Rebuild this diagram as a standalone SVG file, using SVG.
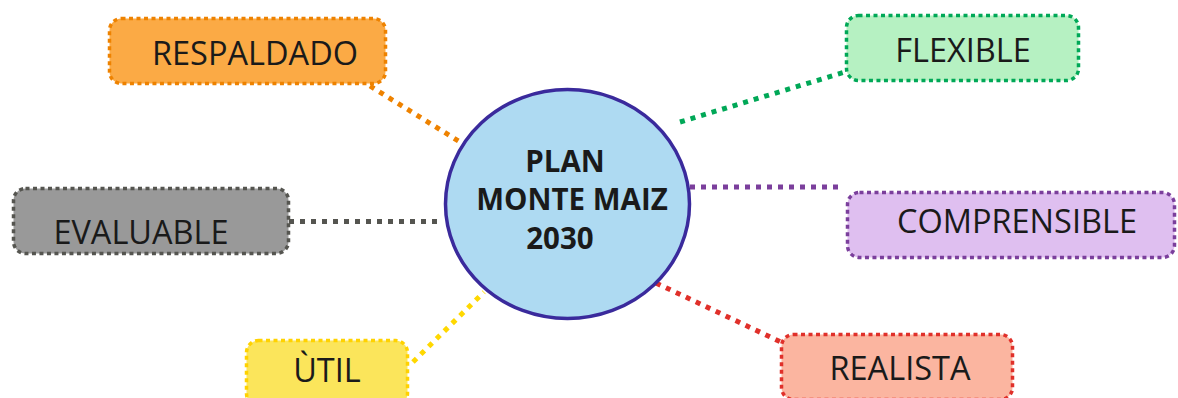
<svg xmlns="http://www.w3.org/2000/svg" width="1178" height="398" viewBox="0 0 1178 398">
<style>
.box{stroke-width:3.5;stroke-dasharray:4 3.5;stroke-linecap:butt}
.lbl{font-family:"Open Sans","Noto Sans","DejaVu Sans",sans-serif;font-size:32.5px;fill:#1a1a1a;text-anchor:middle}
.ctr{font-family:"Open Sans","Noto Sans","DejaVu Sans",sans-serif;font-size:29.5px;font-weight:bold;fill:#1a1a1a;text-anchor:middle}
.con{stroke-width:5;stroke-dasharray:5 6;fill:none}
</style>
<rect width="1178" height="398" fill="#ffffff"/>
<g id="connectors">
<line class="con" x1="370" y1="86" x2="460" y2="142" stroke="#EE8200"/>
<line class="con" x1="680" y1="122" x2="845" y2="72" stroke="#00A857"/>
<line class="con" x1="289" y1="221.5" x2="443" y2="221.5" stroke="#555550"/>
<line class="con" x1="690" y1="187" x2="844" y2="187" stroke="#7B3F9C"/>
<line class="con" x1="413" y1="362" x2="484" y2="292" stroke="#FFD800"/>
<line class="con" x1="656" y1="283" x2="783" y2="343" stroke="#E0302A"/>
</g>
<g id="center">
<ellipse cx="567.5" cy="204" rx="122" ry="114.5" fill="#AEDAF2" stroke="#3A2A9C" stroke-width="3.5"/>
<text class="ctr" x="565" y="172">PLAN</text>
<text class="ctr" x="572" y="210">MONTE MAIZ</text>
<text class="ctr" x="560" y="249">2030</text>
</g>
<g id="respaldado">
<rect class="box" x="109.5" y="18.5" width="276" height="65" rx="12" fill="#FBAA45" stroke="#EE8200"/>
<text class="lbl" x="255" y="65">RESPALDADO</text>
</g>
<g id="flexible">
<rect class="box" x="846.5" y="15.5" width="232" height="65" rx="12" fill="#B6F1C2" stroke="#00A857"/>
<text class="lbl" x="963" y="62">FLEXIBLE</text>
</g>
<g id="evaluable">
<rect class="box" x="13.5" y="188.5" width="275" height="65" rx="12" fill="#999999" stroke="#555550"/>
<text class="lbl" x="141" y="244">EVALUABLE</text>
</g>
<g id="comprensible">
<rect class="box" x="847.5" y="192.5" width="327" height="65" rx="12" fill="#DFBFF0" stroke="#7B3F9C"/>
<text class="lbl" x="1017" y="233">COMPRENSIBLE</text>
</g>
<g id="util">
<rect class="box" x="246.5" y="340.5" width="161" height="65" rx="12" fill="#FBE55B" stroke="#FFD200"/>
<text class="lbl" x="327" y="382">ÙTIL</text>
</g>
<g id="realista">
<rect class="box" x="781.5" y="334.5" width="231" height="65" rx="12" fill="#FBB5A0" stroke="#E0302A"/>
<text class="lbl" x="900" y="380">REALISTA</text>
</g>
</svg>
